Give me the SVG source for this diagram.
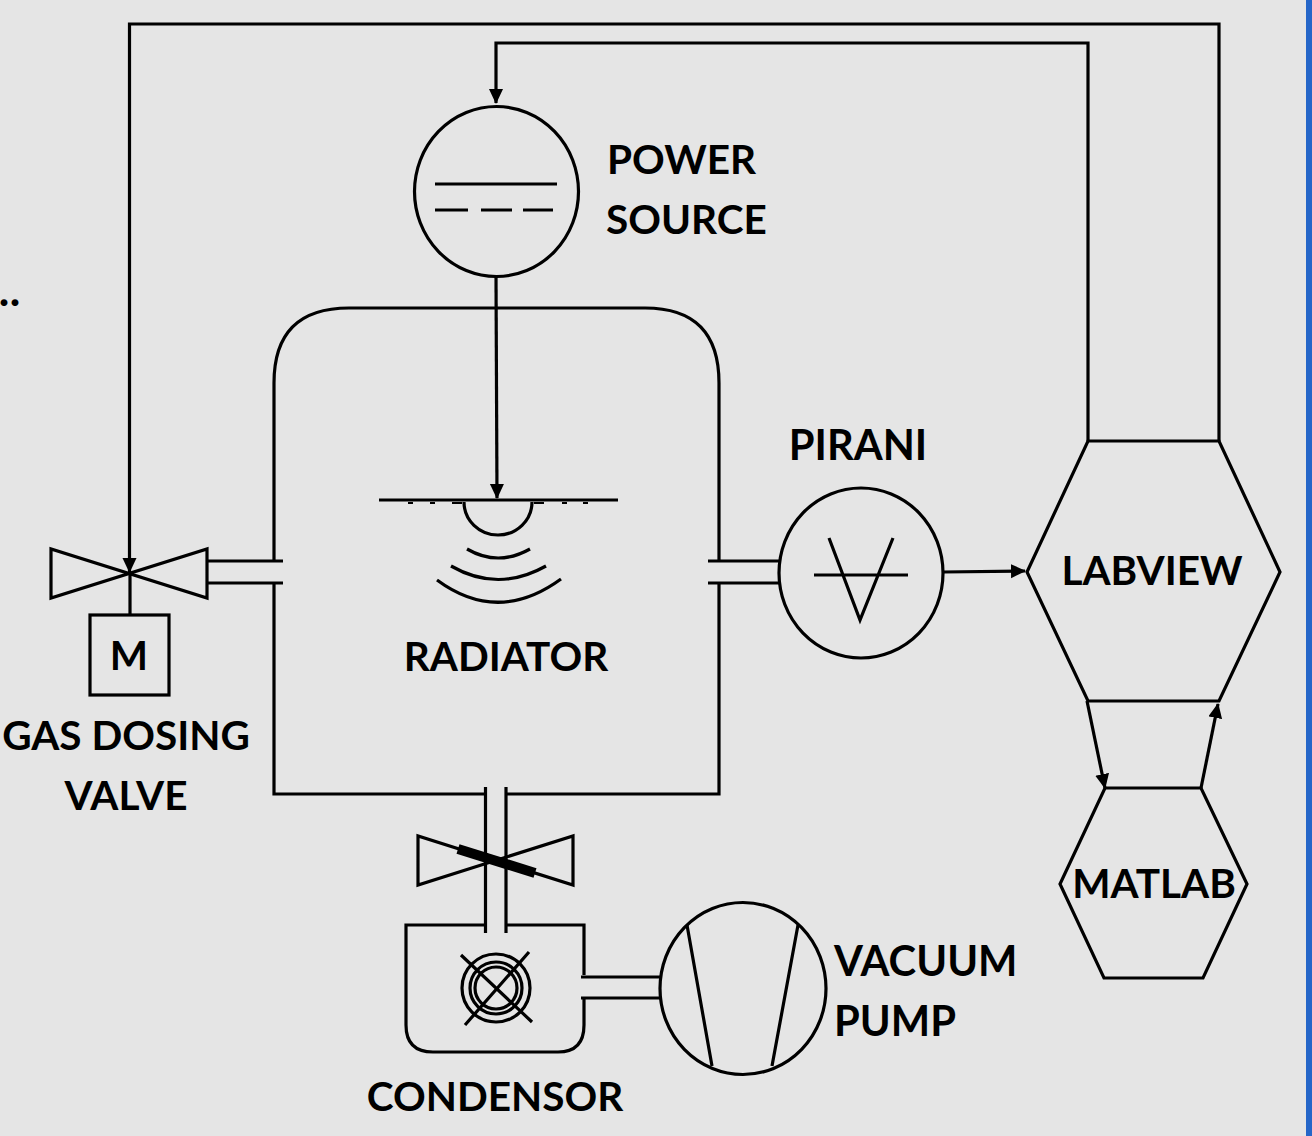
<svg xmlns="http://www.w3.org/2000/svg" width="1312" height="1136" viewBox="0 0 1312 1136">
<style>
.l{fill:none;stroke:#000;stroke-width:3.2;stroke-linejoin:miter}
.t{font-family:Lato,"Open Sans","Liberation Sans",sans-serif;font-weight:700;font-size:40.500px;fill:#000}
.w{font-size:41.700px}
.c{text-anchor:middle}
</style>
<defs>
<marker id="a" markerUnits="userSpaceOnUse" markerWidth="15" markerHeight="16" refX="14" refY="7" orient="auto"><path d="M0 0L15 7L0 14Z" fill="#000"/></marker>
</defs>
<rect width="1312" height="1136" fill="#e5e5e5"/>
<rect x="1306" width="6" height="1136" fill="#2566c8"/>
<text id="stray-dots" x="-1" y="306" style="font-family:Lato,'Liberation Sans',sans-serif;font-weight:900;font-size:42px;letter-spacing:1px">..</text>
<g id="connectors">
<path class="l" d="M1219 441V24H129.500V572" marker-end="url(#a)"/>
<path class="l" d="M1088 441V43H496V103" marker-end="url(#a)"/>
<path class="l" d="M496 277L497 498" marker-end="url(#a)"/>
<path class="l" d="M943 572L1025 571" marker-end="url(#a)"/>
<path class="l" d="M1087 701L1105 788" marker-end="url(#a)"/>
<path class="l" d="M1201 788L1218 704" marker-end="url(#a)"/>
<path class="l" d="M130 574V615"/>
</g>
<g id="chamber">
<path class="l" d="M274 560V383Q274 308 349 308H645Q719 308 719 383V560M719 583V794H507M485 794H274V583"/>
<path class="l" d="M207 561H283M207 583H283M708 561H779M708 583H779"/>
</g>
<g id="power-source">
<ellipse class="l" cx="496.500" cy="191.500" rx="82" ry="85"/>
<path class="l" d="M435 184H557M435 210H468M481 210H512M523 210H553"/>
<text class="t" x="607" y="174">POWER</text>
<text class="t" x="606" y="234">SOURCE</text>
</g>
<g id="radiator">
<path class="l" d="M379 500H618M464 502A34 33 0 0 0 532 502"/>
<path d="M408 503H413M430 503H435M452 503H462M534 503H544M562 503H567M583 503H588" fill="none" stroke="#000" stroke-width="2"/>
<path class="l" d="M467 549Q498 567 530 549M451 566Q498 593 546 566M437 580Q498 625 561 579"/>
<text class="t c" x="506" y="671">RADIATOR</text>
</g>
<g id="gas-dosing-valve">
<path class="l" d="M51 549V598L207 549V598Z"/>
<rect class="l" x="90" y="615" width="79" height="80"/>
<text class="t c" x="129" y="670">M</text>
<text class="t c" x="126" y="750">GAS DOSING</text>
<text class="t c" x="126" y="810">VALVE</text>
</g>
<g id="pirani">
<ellipse class="l" cx="861" cy="573" rx="82" ry="85"/>
<path class="l" d="M814 575H908M829 538L860 620L893 538"/>
<text class="t w c" x="858" y="460">PIRANI</text>
</g>
<g id="labview">
<path class="l" d="M1088 441H1219L1280 572L1219 701H1088L1027 572Z"/>
<text class="t c" x="1152" y="585">LABVIEW</text>
</g>
<g id="matlab">
<path class="l" d="M1105 788H1201L1247 884L1203 978H1104L1060 884Z"/>
<text class="t c" x="1154" y="898">MATLAB</text>
</g>
<g id="shutoff-valve">
<path class="l" d="M418 836V885L573 836V885Z"/>
<path d="M458 849L535 873" fill="none" stroke="#000" stroke-width="10"/>
<path class="l" d="M485.500 787V933M506 787V933"/>
</g>
<g id="condensor">
<path class="l" d="M485 925H406V1025Q406 1052 433 1052H558Q584 1052 584 1025V999M584 975V925H506"/>
<path class="l" d="M581 977H660M581 998H660"/>
<circle class="l" cx="496" cy="988" r="34"/>
<circle class="l" cx="496" cy="988" r="26"/>
<circle class="l" cx="496" cy="988" r="21"/>
<path class="l" d="M461 955L532 1022M529 952L465 1025"/>
<text class="t c" x="495" y="1111">CONDENSOR</text>
</g>
<g id="vacuum-pump">
<ellipse class="l" cx="743" cy="988.500" rx="83" ry="86"/>
<path class="l" d="M687 925L712 1066M798 925L772 1066"/>
<text class="t w" x="834" y="976">VACUUM</text>
<text class="t w" x="834" y="1036">PUMP</text>
</g>
</svg>
